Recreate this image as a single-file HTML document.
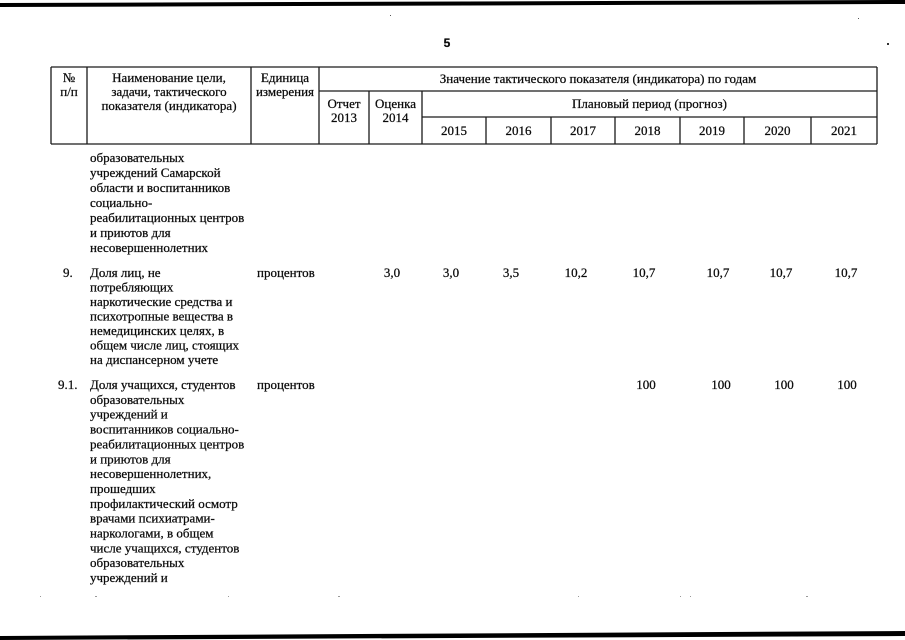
<!DOCTYPE html>
<html><head><meta charset="utf-8">
<style>
html,body{margin:0;padding:0;background:#fff;}
svg{display:block;}
text{font-family:"Liberation Serif","Noto Serif CJK SC",serif;font-size:13px;fill:#0a0a0a;stroke:#0a0a0a;stroke-width:0.25px;}
</style></head>
<body>
<svg width="905" height="640" viewBox="0 0 905 640" xmlns="http://www.w3.org/2000/svg">
<!-- scan edge bars -->
<polygon points="0,3 905,0 905,4 0,7" fill="#000"/>
<polygon points="0,636 905,631 905,636 0,640" fill="#000"/>
<!-- stray specks -->
<rect x="390" y="15" width="1" height="1" fill="#555"/>
<rect x="858" y="18" width="1" height="1" fill="#555"/>
<rect x="887" y="43" width="2" height="2" fill="#333"/>
<g fill="#999">
<rect x="40" y="596" width="1" height="1"/><rect x="95" y="596" width="2" height="1"/>
<rect x="228" y="596" width="1" height="1"/><rect x="338" y="596" width="2" height="1"/>
<rect x="578" y="596" width="1" height="1"/><rect x="680" y="596" width="1" height="1"/>
<rect x="690" y="596" width="1" height="1"/><rect x="806" y="596" width="2" height="1"/>
</g>

<text x="447" y="47" style="font-family:'Liberation Sans',sans-serif;font-size:12px;font-weight:bold;" text-anchor="middle">5</text>

<!-- table lines -->
<g stroke="#1a1a1a" stroke-width="1.3" fill="none">
<line x1="51" y1="67" x2="877" y2="67"/>
<line x1="51" y1="144" x2="877" y2="144"/>
<line x1="319" y1="91" x2="877" y2="91"/>
<line x1="422" y1="117" x2="877" y2="117"/>
<line x1="51" y1="67" x2="51" y2="144"/>
<line x1="87" y1="67" x2="87" y2="144"/>
<line x1="251" y1="67" x2="251" y2="144"/>
<line x1="319" y1="67" x2="319" y2="144"/>
<line x1="877" y1="67" x2="877" y2="144"/>
<line x1="369" y1="91" x2="369" y2="144"/>
<line x1="422" y1="91" x2="422" y2="144"/>
<line x1="486" y1="117" x2="486" y2="144"/>
<line x1="551" y1="117" x2="551" y2="144"/>
<line x1="615" y1="117" x2="615" y2="144"/>
<line x1="680" y1="117" x2="680" y2="144"/>
<line x1="744" y1="117" x2="744" y2="144"/>
<line x1="811" y1="117" x2="811" y2="144"/>
</g>

<!-- header text -->
<g text-anchor="middle">
<text x="69" y="82">№</text>
<text x="69" y="96">п/п</text>
<text x="169" y="82">Наименование цели,</text>
<text x="169" y="96">задачи, тактического</text>
<text x="169" y="110">показателя (индикатора)</text>
<text x="285" y="82">Единица</text>
<text x="285" y="96">измерения</text>
<text x="598" y="83">Значение тактического показателя (индикатора) по годам</text>
<text x="344" y="108">Отчет</text>
<text x="344" y="122">2013</text>
<text x="395.5" y="108">Оценка</text>
<text x="395.5" y="122">2014</text>
<text x="649.5" y="108">Плановый период (прогноз)</text>
<text x="454" y="135">2015</text>
<text x="518.5" y="135">2016</text>
<text x="583" y="135">2017</text>
<text x="647.5" y="135">2018</text>
<text x="712" y="135">2019</text>
<text x="777.5" y="135">2020</text>
<text x="844" y="135">2021</text>
</g>

<!-- block 1 -->
<g>
<text x="90" y="162">образовательных</text>
<text x="90" y="177">учреждений Самарской</text>
<text x="90" y="192">области и воспитанников</text>
<text x="90" y="207">социально-</text>
<text x="90" y="222">реабилитационных центров</text>
<text x="90" y="237">и приютов для</text>
<text x="90" y="252">несовершеннолетних</text>
</g>

<!-- block 2 -->
<g>
<text x="63" y="277">9.</text>
<text x="90" y="277">Доля лиц, не</text>
<text x="90" y="291.5">потребляющих</text>
<text x="90" y="306">наркотические средства и</text>
<text x="90" y="320.5">психотропные вещества в</text>
<text x="90" y="335">немедицинских целях, в</text>
<text x="90" y="349.5">общем числе лиц, стоящих</text>
<text x="90" y="364">на диспансерном учете</text>
<text x="257" y="277">процентов</text>
</g>
<g text-anchor="middle">
<text x="392" y="277">3,0</text>
<text x="451" y="277">3,0</text>
<text x="511" y="277">3,5</text>
<text x="576" y="277">10,2</text>
<text x="644" y="277">10,7</text>
<text x="718" y="277">10,7</text>
<text x="781" y="277">10,7</text>
<text x="846" y="277">10,7</text>
</g>

<!-- block 3 -->
<g>
<text x="58" y="389">9.1.</text>
<text x="90" y="389">Доля учащихся, студентов</text>
<text x="90" y="403.85">образовательных</text>
<text x="90" y="418.7">учреждений и</text>
<text x="90" y="433.55">воспитанников социально-</text>
<text x="90" y="448.4">реабилитационных центров</text>
<text x="90" y="463.25">и приютов для</text>
<text x="90" y="478.1">несовершеннолетних,</text>
<text x="90" y="492.95">прошедших</text>
<text x="90" y="507.8">профилактический осмотр</text>
<text x="90" y="522.65">врачами психиатрами-</text>
<text x="90" y="537.5">наркологами, в общем</text>
<text x="90" y="552.35">числе учащихся, студентов</text>
<text x="90" y="567.2">образовательных</text>
<text x="90" y="582.05">учреждений и</text>
<text x="257" y="389">процентов</text>
</g>
<g text-anchor="middle">
<text x="646" y="389">100</text>
<text x="721" y="389">100</text>
<text x="784" y="389">100</text>
<text x="847" y="389">100</text>
</g>
</svg>
</body></html>
